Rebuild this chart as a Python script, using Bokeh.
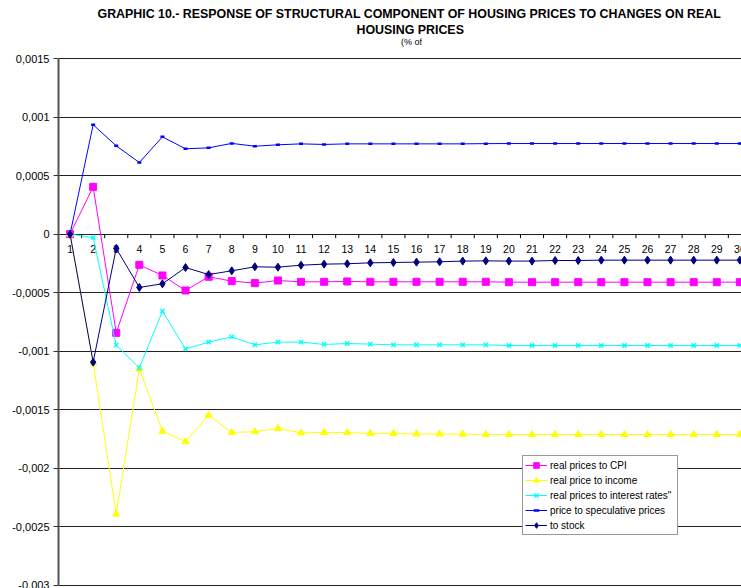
from bokeh.plotting import figure
from bokeh.models import (Range1d, FixedTicker, CustomJSTickFormatter, Title,
                          Label, Legend, LegendItem)
from bokeh.embed import file_html
from bokeh.resources import INLINE
from bokeh.core.properties import value
import math

periods = list(range(1, 31))
period_labels = [str(v) for v in periods]
tick_boundaries = [v - 0.5 for v in periods]
y_ticks = [0.0015, 0.001, 0.0005, 0.0, -0.0005, -0.001, -0.0015, -0.002, -0.0025, -0.003]

title_line1 = "GRAPHIC 10.- RESPONSE OF STRUCTURAL COMPONENT OF HOUSING PRICES TO CHANGES ON REAL"
title_line2 = "HOUSING PRICES"
title_line3 = "(% of"

series_names = ["real prices to CPI", "real price to income",
                "real prices to interest rates\"", "price to speculative prices",
                "to stock"]

cpi = [0, 0.000404, -0.000843, -0.000262, -0.000353, -0.000481, -0.000364,
       -0.000401, -0.000418, -0.000396, -0.000407, -0.000407, -0.000404,
       -0.000407, -0.000407, -0.000407, -0.000407, -0.000407, -0.000407,
       -0.00041, -0.00041, -0.00041, -0.00041, -0.00041, -0.00041, -0.00041,
       -0.00041, -0.00041, -0.00041, -0.00041]
income = [0, -0.001099, -0.00239, -0.00115, -0.001682, -0.001773, -0.001546,
          -0.001694, -0.001686, -0.00166, -0.001697, -0.001694, -0.001694,
          -0.001703, -0.001703, -0.001706, -0.001706, -0.001708, -0.001711,
          -0.001711, -0.001711, -0.001711, -0.001711, -0.001711, -0.001711,
          -0.001711, -0.001711, -0.001711, -0.001711, -0.001711]
interest = [0, -0.00003, -0.000948, -0.001142, -0.000658, -0.00098, -0.000922,
            -0.000877, -0.000945, -0.000922, -0.000922, -0.000942, -0.000934,
            -0.000939, -0.000945, -0.000945, -0.000945, -0.000945, -0.000945,
            -0.000951, -0.000951, -0.000951, -0.000951, -0.000951, -0.000951,
            -0.000951, -0.000951, -0.000951, -0.000951, -0.000951]
speculative = [0, 0.000934, 0.000754, 0.000612, 0.000831, 0.000729, 0.000737,
               0.000775, 0.000751, 0.000763, 0.000771, 0.000766, 0.000771,
               0.000771, 0.000771, 0.000771, 0.000771, 0.000771, 0.000773,
               0.000774, 0.000774, 0.000774, 0.000774, 0.000774, 0.000774,
               0.000774, 0.000774, 0.000774, 0.000774, 0.000774]
stock = [0, -0.001093, -0.000122, -0.000455, -0.000424, -0.000285, -0.000345,
         -0.000313, -0.000279, -0.000282, -0.000265, -0.000256, -0.000253,
         -0.000245, -0.000242, -0.000239, -0.000236, -0.00023, -0.000228,
         -0.00023, -0.00023, -0.000225, -0.000225, -0.000222, -0.000222,
         -0.000222, -0.000222, -0.000222, -0.000222, -0.000222]

FONT = "Liberation Sans"
Y_TOP = 0.0015

p = figure(width=741, height=588, output_backend="svg", toolbar_location=None,
           x_range=Range1d(0.5, 30.07), y_range=Range1d(-0.003026, 0.0016708),
           x_axis_location=None, min_border_left=58, min_border_right=0,
           min_border_bottom=0, min_border_top=38)
p.outline_line_color = None
p.background_fill_color = "white"
p.border_fill_color = "white"

# titles (later additions stack further out)
p.add_layout(Title(text=title_line2, text_font=FONT, text_font_size="12.4px",
                   text_font_style="bold", align="left", offset=298,
                   standoff=2.5, text_color="black"), "above")
p.add_layout(Title(text=title_line1, text_font=FONT, text_font_size="12.4px",
                   text_font_style="bold", align="left", offset=39,
                   standoff=-2, text_color="black"), "above")
p.add_layout(Label(x=15.78, y=0.001645, text=title_line3, text_font=FONT,
                   text_font_size="9px", text_align="center",
                   text_baseline="middle", text_color="black"))

# y axis
yax = p.yaxis[0]
yax.ticker = FixedTicker(ticks=y_ticks)
yax.bounds = (min(y_ticks), max(y_ticks))
yax.formatter = CustomJSTickFormatter(
    code="var s = parseFloat(tick.toFixed(6)).toString(); return s.replace('.', ',');")
yax.major_label_text_font = FONT
yax.major_label_text_font_size = "11px"
yax.major_label_text_color = "black"
yax.major_tick_out = 5
yax.major_tick_in = 0
yax.minor_tick_out = 0
yax.minor_tick_in = 0
yax.major_label_standoff = 4
yax.axis_line_color = "#555555"
yax.axis_line_width = 2
yax.major_tick_line_color = "#333333"

p.xgrid.visible = False
p.ygrid.grid_line_color = "#222222"
p.ygrid.grid_line_width = 1

# category axis drawn at zero
p.ray(x=tick_boundaries, y=[0] * len(tick_boundaries), length=4,
      length_units="screen", angle=-math.pi / 2, line_color="black", line_width=1)
p.text(x=periods, y=[0] * len(periods), text=period_labels, text_font=value(FONT),
       text_font_size="10.5px", text_align="center", text_baseline="top",
       y_offset=11, text_color="black")

styles = [
    ("#FF00FF", "square", 7, cpi),
    ("#FFFF00", "triangle", 7, income),
    ("#00FFFF", "x", 6, interest),
    ("#0000FF", "dash", 4, speculative),
    ("#000080", "diamond", 8, stock),
]

items = []
for name, (color, marker, size, ys) in zip(series_names, styles):
    ln = p.line(periods, ys, line_color=color, line_width=1)
    if marker == "x":
        sc = p.scatter(periods, ys, marker=marker, size=size, line_color=color,
                       line_width=1.5)
    elif marker == "dash":
        sc = p.scatter(periods, ys, marker=marker, size=size, line_color=color,
                       line_width=2.5)
    else:
        sc = p.scatter(periods, ys, marker=marker, size=size, fill_color=color,
                       line_color=color)
    items.append(LegendItem(label=name, renderers=[ln, sc]))

legend = Legend(items=items, location=(464, 53))
legend.label_text_font = FONT
legend.label_text_font_size = "10px"
legend.label_text_color = "black"
legend.glyph_width = 22
legend.glyph_height = 14
legend.label_height = 14
legend.label_width = 125
legend.label_standoff = 3
legend.spacing = 1
legend.padding = 2
legend.margin = 0
legend.border_line_color = "#333333"
legend.border_line_width = 1
legend.background_fill_color = "white"
legend.background_fill_alpha = 1
p.add_layout(legend)

open("out.html", "w").write(file_html(p, INLINE))
